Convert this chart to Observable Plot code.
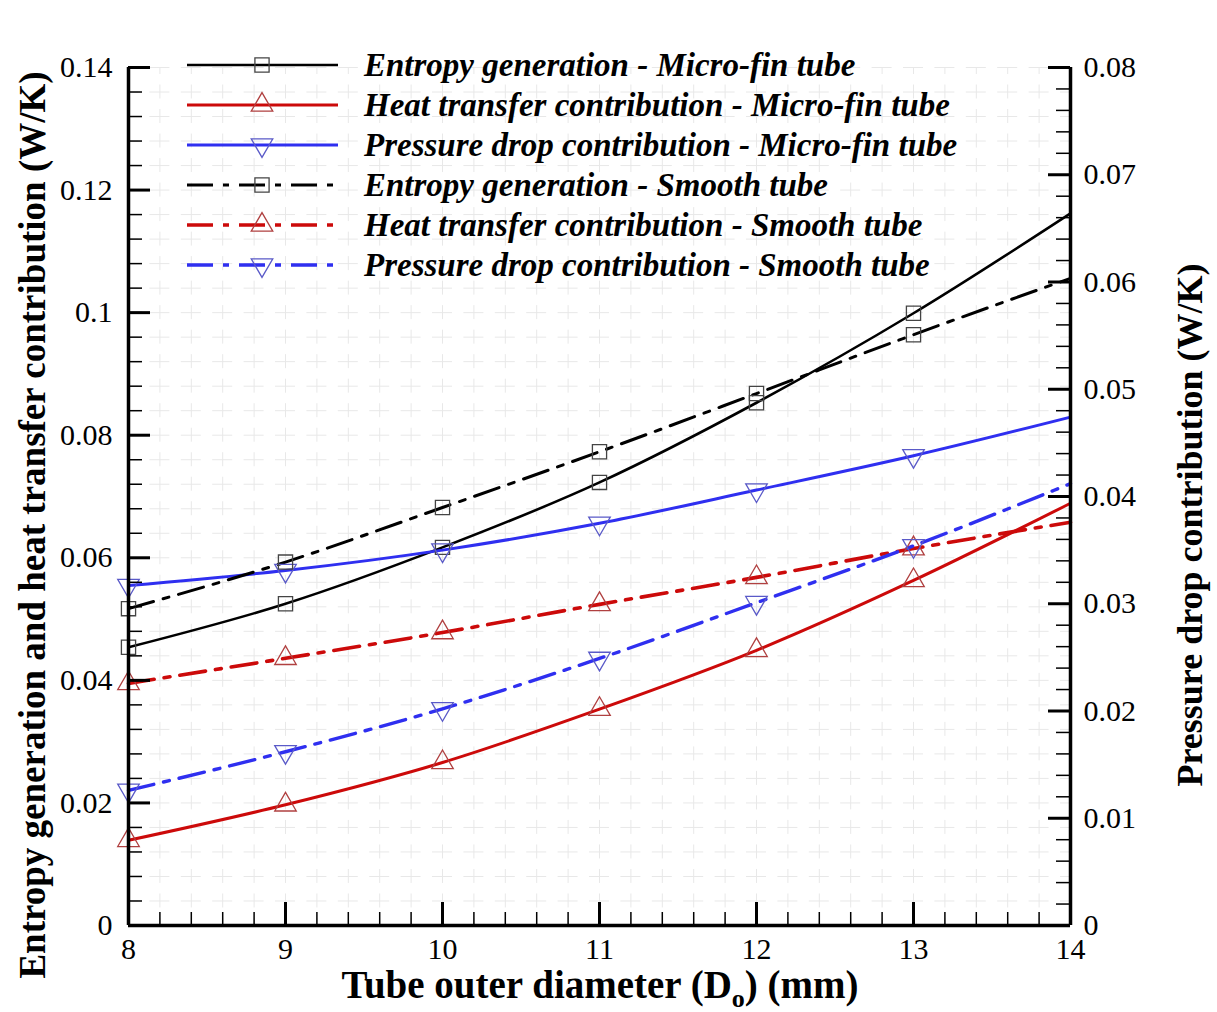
<!DOCTYPE html>
<html><head><meta charset="utf-8">
<script src="https://cdn.jsdelivr.net/npm/d3@7"></script>
<script src="https://cdn.jsdelivr.net/npm/@observablehq/plot@0.6"></script>
<style>
body{margin:0;background:#fff;}
#chart{position:relative;width:1217px;height:1012px;}
</style>
</head><body><div id="chart"></div>
<script>
// ---- data ----
const diameters = [8, 9, 10, 11, 12, 13, 14];
const markerDiameters = [8, 9, 10, 11, 12, 13];
const entropyMicro   = [0.0454, 0.0525, 0.0617, 0.0723, 0.0853, 0.0999, 0.1162];
const heatMicro      = [0.0139, 0.0197, 0.0266, 0.0353, 0.0449, 0.0563, 0.0689];
const pressureMicro  = [0.0317, 0.0331, 0.0350, 0.0375, 0.0406, 0.0438, 0.0474]; // right axis
const entropySmooth  = [0.0517, 0.0593, 0.0682, 0.0773, 0.0868, 0.0964, 0.1056];
const heatSmooth     = [0.0395, 0.0436, 0.0478, 0.0524, 0.0568, 0.0615, 0.0658];
const pressureSmooth = [0.0126, 0.0162, 0.0202, 0.0249, 0.0301, 0.0354, 0.0412]; // right axis
const seriesLabels = [
  "Entropy generation - Micro-fin tube",
  "Heat transfer contribution - Micro-fin tube",
  "Pressure drop contribution - Micro-fin tube",
  "Entropy generation - Smooth tube",
  "Heat transfer contribution - Smooth tube",
  "Pressure drop contribution - Smooth tube"
];
const xTicks = [8, 9, 10, 11, 12, 13, 14];
const leftTicks = [0, 0.02, 0.04, 0.06, 0.08, 0.1, 0.12, 0.14];
const rightTicks = [0, 0.01, 0.02, 0.03, 0.04, 0.05, 0.06, 0.07, 0.08];
const xTitle = ["Tube outer diameter (D", "o", ") (mm)"];
const leftTitle = "Entropy generation and heat transfer contribution (W/K)";
const rightTitle = "Pressure drop contribution (W/K)";

// ---- styles ----
const W = 1217, H = 1012;
const mL = 128, mR = 147, mT = 67, mB = 87;
const pw = W - mL - mR, ph = H - mT - mB;
const leftMax = leftTicks[leftTicks.length - 1];
const rightMax = rightTicks[rightTicks.length - 1];
const k = leftMax / rightMax; // right-axis value -> left-axis units
const DASHDOT = "26,10,6,10";
const serif = "Liberation Serif";

const triangleDown = {
  draw(context, size) {
    const s3 = Math.sqrt(3);
    const y = -Math.sqrt(size / (s3 * 3));
    context.moveTo(0, -y * 2);
    context.lineTo(-s3 * y, y);
    context.lineTo(s3 * y, y);
    context.closePath();
  }
};

const series = [
  {values: entropyMicro,   scale: 1, color: "#000000", dash: null,    symbol: "square",   mk: "#444444", sw: 2.6},
  {values: heatMicro,      scale: 1, color: "#cc0a0a", dash: null,    symbol: "triangle", mk: "#b04040", sw: 3},
  {values: pressureMicro,  scale: k, color: "#2f2ff0", dash: null,    symbol: triangleDown, mk: "#5a5ac8", sw: 3},
  {values: entropySmooth,  scale: 1, color: "#000000", dash: DASHDOT, symbol: "square",   mk: "#444444", sw: 3},
  {values: heatSmooth,     scale: 1, color: "#cc0a0a", dash: DASHDOT, symbol: "triangle", mk: "#b04040", sw: 3.6},
  {values: pressureSmooth, scale: k, color: "#2f2ff0", dash: DASHDOT, symbol: triangleDown, mk: "#5a5ac8", sw: 3.4}
].map((s, i) => ({...s, label: seriesLabels[i]}));

const rowsOf = s => diameters.map((d, i) => ({x: d, y: s.values[i] * s.scale}));

// minor tick positions
const xMinor = d3.range(0, 31).map(i => xTicks[0] + i * 0.2);
const yMinor = d3.range(0, 36).map(i => i * 0.004);
const rMinor = d3.range(0, 41).map(i => i * 0.002 * k);
const fmt = v => String(+v.toFixed(4));

const marks = [
  // grid
  Plot.ruleY(yMinor, {stroke: "#e8e8e8", strokeWidth: 1, strokeDasharray: "20,11.4", strokeDashoffset: 10}),
  Plot.ruleX(xMinor, {stroke: "#e8e8e8", strokeWidth: 1, strokeDasharray: "14,10.514", strokeDashoffset: 7}),
];
series.forEach(s => {
  marks.push(Plot.line(rowsOf(s), {x: "x", y: "y", stroke: s.color, strokeWidth: s.sw,
    strokeDasharray: s.dash, curve: "monotone-x"}));
});
series.forEach(s => {
  marks.push(Plot.dot(rowsOf(s).filter(d => markerDiameters.includes(d.x)),
    {x: "x", y: "y", symbol: s.symbol, r: 8, fill: "none", stroke: s.mk, strokeWidth: 1.3}));
});
marks.push(
  // inward ticks
  Plot.tickY(yMinor, {stroke: "#000", strokeWidth: 1.5, insetRight: pw - 14}),
  Plot.tickY(leftTicks, {stroke: "#000", strokeWidth: 3, insetRight: pw - 22}),
  Plot.tickY(rMinor, {stroke: "#000", strokeWidth: 1.5, insetLeft: pw - 14}),
  Plot.tickY(rightTicks.map(v => v * k), {stroke: "#000", strokeWidth: 3, insetLeft: pw - 22}),
  Plot.tickX(xMinor, {stroke: "#000", strokeWidth: 1.5, insetTop: ph - 13}),
  Plot.tickX(xTicks, {stroke: "#000", strokeWidth: 3, insetTop: ph - 23}),
  // axis lines
  Plot.ruleX([xTicks[0]], {stroke: "#000", strokeWidth: 3.5}),
  Plot.ruleX([xTicks[xTicks.length - 1]], {stroke: "#000", strokeWidth: 3.5}),
  Plot.ruleY([leftTicks[0]], {stroke: "#000", strokeWidth: 3.5}),
  // axis labels
  Plot.axisY(leftTicks, {anchor: "left", tickSize: 0, tickPadding: 16, tickFormat: fmt, label: null,
    fontSize: 30, fontFamily: serif}),
  Plot.axisY(rightTicks.map(v => v * k), {anchor: "right", tickSize: 0, tickPadding: 13,
    tickFormat: d => fmt(d / k), label: null, fontSize: 30, fontFamily: serif}),
  Plot.axisX(xTicks, {anchor: "bottom", tickSize: 0, tickPadding: 12, tickFormat: d => String(d), label: null,
    fontSize: 30, fontFamily: serif})
);

const plot = Plot.plot({
  width: W, height: H,
  marginLeft: mL, marginRight: mR, marginTop: mT, marginBottom: mB,
  x: {domain: [xTicks[0], xTicks[xTicks.length - 1]]},
  y: {domain: [0, leftMax]},
  style: {fontFamily: serif, fontSize: "30px", color: "#000", background: "#fff", overflow: "visible"},
  marks
});
document.getElementById("chart").appendChild(plot);

// ---- titles and legend (text overlays drawn into the plot SVG) ----
const svg = d3.select(plot);

const xt = svg.append("text").attr("x", 600).attr("y", H - 14)
  .attr("text-anchor", "middle").attr("font-family", serif).attr("font-weight", "bold")
  .attr("font-size", 39).attr("fill", "#000");
xt.append("tspan").text(xTitle[0]);
xt.append("tspan").attr("font-size", 26).attr("dy", 9).text(xTitle[1]);
xt.append("tspan").attr("dy", -9).text(xTitle[2]);

svg.append("text").attr("transform", `translate(32,525) rotate(-90)`)
  .attr("text-anchor", "middle").attr("dominant-baseline", "central")
  .attr("font-family", serif).attr("font-weight", "bold").attr("font-size", 37).attr("fill", "#000")
  .text(leftTitle);

svg.append("text").attr("transform", `translate(1190,525) rotate(-90)`)
  .attr("text-anchor", "middle").attr("dominant-baseline", "central")
  .attr("font-family", serif).attr("font-weight", "bold").attr("font-size", 36).attr("fill", "#000")
  .text(rightTitle);

const lg = svg.append("g");
series.forEach((s, i) => {
  const y = 65 + i * 40;
  lg.append("line").attr("x1", 187).attr("x2", 338).attr("y1", y).attr("y2", y)
    .attr("stroke", s.color).attr("stroke-width", s.sw).attr("stroke-dasharray", s.dash);
  const sym = typeof s.symbol === "string"
    ? (s.symbol === "square" ? d3.symbolSquare : d3.symbolTriangle) : s.symbol;
  lg.append("path").attr("transform", `translate(262,${y})`)
    .attr("d", d3.symbol(sym, Math.PI * 64)())
    .attr("fill", "none").attr("stroke", s.mk).attr("stroke-width", 1.3);
  lg.append("text").attr("x", 364).attr("y", y).attr("dy", "0.33em").attr("text-anchor", "start")
    .attr("font-family", serif).attr("font-weight", "bold").attr("font-style", "italic")
    .attr("font-size", 33).attr("fill", "#000").text(s.label);
});
</script>
</body></html>
